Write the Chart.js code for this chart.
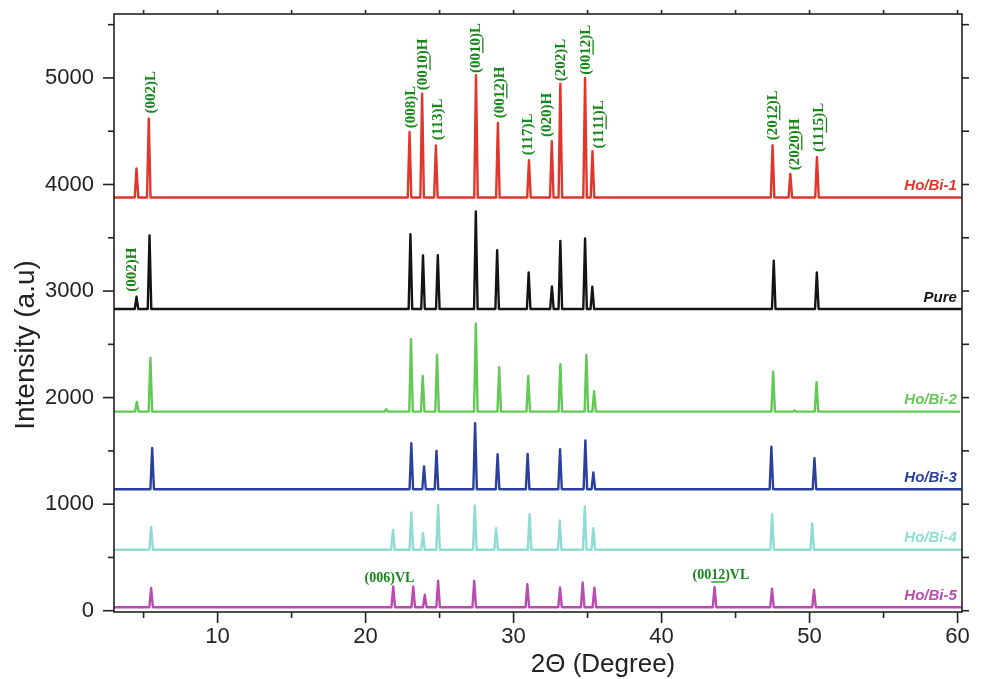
<!DOCTYPE html>
<html>
<head>
<meta charset="utf-8">
<script src="https://cdn.jsdelivr.net/npm/chart.js@4.4.1/dist/chart.umd.min.js"></script>
<style>
  html, body { margin: 0; padding: 0; background: #fff; }
</style>
</head>
<body>
<canvas id="xrd" width="982" height="679"></canvas>
<script>
// XRD patterns, each curve shifted up by its own baseline

const xTicks = [10, 20, 30, 40, 50, 60];
const xMinor = [5, 15, 25, 35, 45, 55];
const yTicks = [0, 1000, 2000, 3000, 4000, 5000];
const yMinor = [500, 1500, 2500, 3500, 4500, 5500];

const seriesNames = ["Ho/Bi-1", "Pure", "Ho/Bi-2", "Ho/Bi-3", "Ho/Bi-4", "Ho/Bi-5"];
const seriesColors = ["#e2352b", "#141414", "#62c954", "#2b3f9c", "#8fdcd4", "#bc4bb0"];
const baselines = [3878, 2831, 1868, 1140, 572, 33];
const traceEnd = [60.3, 60.3, 60.1, 60.3, 60.3, 60.3];

// peak positions (2 theta) and peak tops (a.u.)
const bi1Pos = [4.52, 5.35, 22.97, 23.82, 24.75, 27.46, 28.94, 31.04, 32.58, 33.16, 34.83, 35.33, 47.50, 48.70, 50.50];
const bi1Top = [4150, 4619, 4493, 4853, 4366, 5025, 4578, 4228, 4406, 4947, 5000, 4312, 4369, 4100, 4256];

const purePos = [4.52, 5.40, 23.03, 23.88, 24.88, 27.45, 28.89, 31.02, 32.59, 33.16, 34.83, 35.32, 47.58, 50.49];
const pureTop = [2946, 3522, 3534, 3335, 3337, 3747, 3384, 3175, 3044, 3469, 3494, 3040, 3284, 3175];

const bi2Pos = [4.54, 5.46, 21.40, 23.07, 23.86, 24.83, 27.45, 29.03, 30.99, 33.16, 34.92, 35.44, 47.54, 48.98, 50.47];
const bi2Top = [1959, 2372, 1890, 2547, 2203, 2400, 2697, 2285, 2203, 2313, 2400, 2060, 2243, 1880, 2144];

const bi3Pos = [5.58, 23.09, 23.95, 24.79, 27.40, 28.92, 30.95, 33.14, 34.85, 35.39, 47.42, 50.33];
const bi3Top = [1528, 1572, 1353, 1500, 1760, 1469, 1472, 1516, 1597, 1297, 1540, 1432];

const bi4Pos = [5.51, 21.85, 23.09, 23.88, 24.90, 27.38, 28.82, 31.08, 33.12, 34.81, 35.39, 47.47, 50.18];
const bi4Top = [787, 759, 922, 728, 994, 987, 775, 906, 847, 978, 775, 909, 822];

const bi5Pos = [5.51, 21.87, 23.22, 24.00, 24.90, 27.34, 30.93, 33.14, 34.67, 35.46, 43.58, 47.46, 50.30];
const bi5Top = [213, 228, 228, 150, 281, 281, 250, 218, 265, 216, 222, 206, 197];

const peakPos = [bi1Pos, purePos, bi2Pos, bi3Pos, bi4Pos, bi5Pos];
const peakTop = [bi1Top, pureTop, bi2Top, bi3Top, bi4Top, bi5Top];

// Miller index labels: [before, underlined, after], anchored at (2 theta, a.u.)
const hklText = [
  ["(002)L", "", ""], ["(008)L", "", ""], ["(00", "10", ")H"], ["(113)L", "", ""],
  ["(00", "10", ")L"], ["(00", "12", ")H"], ["(117)L", "", ""], ["(020)H", "", ""],
  ["(202)L", "", ""], ["(00", "12", ")L"], ["(11", "11", ")L"], ["(20", "12", ")L"],
  ["(20", "20", ")H"], ["(11", "15", ")L"], ["(002)H", "", ""]
];
const hklX = [5.49, 23.09, 23.88, 24.90, 27.45, 29.07, 30.99, 32.30, 33.18, 34.90, 35.78, 47.51, 49.00, 50.67, 4.25];
const hklY = [4666, 4528, 4884, 4416, 5046, 4622, 4275, 4446, 4969, 5031, 4338, 4416, 4134, 4306, 2993];

const vlText = [["(006)VL", "", ""], ["(00", "12", ")VL"]];
const vlX = [19.93, 42.09];
const vlY = [300, 331];

const sansFont = "'Liberation Sans', Arial, sans-serif";
const serifFont = "'Liberation Serif', 'Times New Roman', serif";
const labelGreen = "#17871a";

function trace(pos, top, base, end) {
  const pts = [{ x: 3, y: base }];
  pos.forEach((p, i) => {
    pts.push({ x: p - 0.12, y: base }, { x: p, y: top[i] }, { x: p + 0.12, y: base });
  });
  pts.push({ x: end, y: base });
  return pts;
}

const datasets = seriesNames.map((name, i) => ({
  label: name,
  data: trace(peakPos[i], peakTop[i], baselines[i], traceEnd[i]),
  borderColor: seriesColors[i],
  borderWidth: 2.4,
  pointRadius: 0,
  tension: 0,
  borderJoinStyle: "round",
  borderCapStyle: "round",
  fill: false
}));

// text with an underlined middle part; rotated = reads bottom to top
function drawParts(ctx, parts, px, py, rotated, font, under) {
  ctx.save();
  ctx.translate(px, py);
  if (rotated) ctx.rotate(-Math.PI / 2);
  ctx.font = font;
  ctx.textAlign = "left";
  ctx.textBaseline = "middle";
  let off = 0;
  parts.forEach((t, k) => {
    if (!t) return;
    ctx.fillText(t, off, 0);
    const w = ctx.measureText(t).width;
    if (k === 1) {
      ctx.beginPath();
      ctx.lineWidth = 1.3;
      ctx.moveTo(off, under);
      ctx.lineTo(off + w, under);
      ctx.stroke();
    }
    off += w;
  });
  ctx.restore();
}

const decor = {
  id: "decor",
  afterDatasetsDraw(chart) {
    const { ctx, chartArea: a, scales: { x, y } } = chart;
    ctx.save();
    // frame
    ctx.strokeStyle = "#222";
    ctx.lineWidth = 1.6;
    ctx.strokeRect(a.left, a.top, a.right - a.left, a.bottom - a.top);
    const seg = (x1, y1, x2, y2) => { ctx.beginPath(); ctx.moveTo(x1, y1); ctx.lineTo(x2, y2); ctx.stroke(); };
    xTicks.concat(xMinor).forEach(v => {
      const px = x.getPixelForValue(v);
      seg(px, a.bottom, px, a.bottom + (xTicks.includes(v) ? 11 : 6));
      seg(px, a.top, px, a.top - 4);
    });
    yTicks.concat(yMinor).forEach(v => {
      const py = y.getPixelForValue(v);
      seg(a.left - (yTicks.includes(v) ? 11 : 6), py, a.left, py);
      seg(a.right, py, a.right + 7, py);
    });

    // series names
    ctx.font = "italic bold 15px " + sansFont;
    ctx.textAlign = "right";
    ctx.textBaseline = "alphabetic";
    seriesNames.forEach((n, i) => {
      ctx.fillStyle = seriesColors[i];
      ctx.fillText(n, x.getPixelForValue(59.95), y.getPixelForValue(baselines[i]) - 7.5);
    });

    // hkl labels
    ctx.fillStyle = labelGreen;
    ctx.strokeStyle = labelGreen;
    hklText.forEach((parts, i) => {
      drawParts(ctx, parts, x.getPixelForValue(hklX[i]), y.getPixelForValue(hklY[i]), true, "bold 15px " + serifFont, 7);
    });
    vlText.forEach((parts, i) => {
      drawParts(ctx, parts, x.getPixelForValue(vlX[i]), y.getPixelForValue(vlY[i]), false, "bold 14px " + serifFont, 6.5);
    });

    // axis titles
    ctx.fillStyle = "#222";
    ctx.font = "26px " + sansFont;
    ctx.textAlign = "center";
    ctx.textBaseline = "alphabetic";
    ctx.fillText("2\u0398 (Degree)", 603, 672);
    ctx.font = "28px " + sansFont;
    ctx.translate(34, 345);
    ctx.rotate(-Math.PI / 2);
    ctx.fillText("Intensity (a.u)", 0, 0);
    ctx.restore();
  }
};

new Chart(document.getElementById("xrd"), {
  type: "line",
  data: { datasets },
  options: {
    responsive: false,
    animation: false,
    layout: { padding: { top: 14, right: 20, left: 0, bottom: 0 } },
    plugins: { legend: { display: false }, tooltip: { enabled: false } },
    scales: {
      x: {
        type: "linear",
        min: 3,
        max: 60.3,
        afterFit(s) { s.height = 67; },
        afterBuildTicks(s) { s.ticks = xTicks.map(v => ({ value: v })); },
        ticks: { font: { family: sansFont, size: 22 }, color: "#222", padding: 1, maxRotation: 0, autoSkip: false },
        grid: { display: true, drawOnChartArea: false, drawTicks: true, tickLength: 11, color: "rgba(0,0,0,0)" },
        border: { display: false }
      },
      y: {
        type: "linear",
        min: -12,
        max: 5600,
        afterFit(s) { s.width = 114; },
        afterBuildTicks(s) { s.ticks = yTicks.map(v => ({ value: v })); },
        ticks: { font: { family: sansFont, size: 22 }, color: "#222", padding: 0, callback: v => String(v) },
        grid: { display: true, drawOnChartArea: false, drawTicks: true, tickLength: 20, color: "rgba(0,0,0,0)" },
        border: { display: false }
      }
    }
  },
  plugins: [decor]
});
</script>
</body>
</html>
